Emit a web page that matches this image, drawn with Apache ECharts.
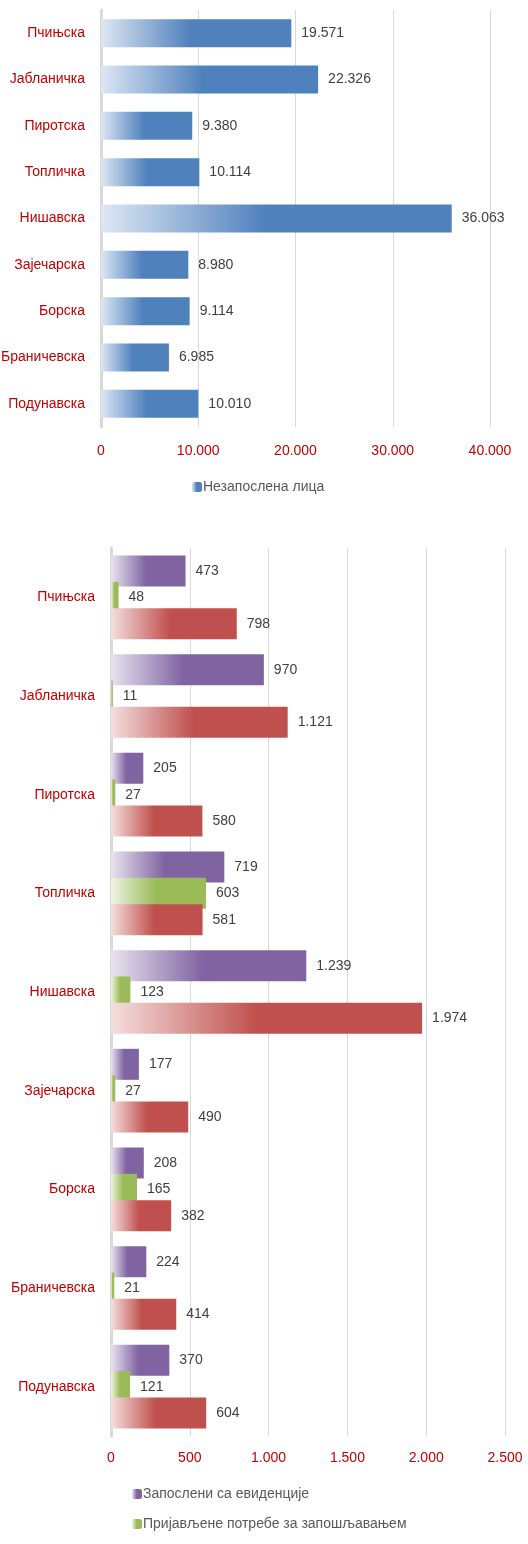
<!DOCTYPE html>
<html>
<head>
<meta charset="utf-8">
<script src="https://cdn.jsdelivr.net/npm/echarts@6/dist/echarts.min.js"></script>
<style>
html,body{margin:0;padding:0;background:#fff;}
#c{width:528px;height:1544px;}
</style>
</head>
<body>
<div id="c"></div>
<script>
const categories = ['Пчињска','Јабланичка','Пиротска','Топличка','Нишавска','Зајечарска','Борска','Браничевска','Подунавска'];
const unemployed = [19571,22326,9380,10114,36063,8980,9114,6985,10010];
const employedFromRegister = [473,970,205,719,1239,177,208,224,370];
const reportedNeeds = [48,11,27,603,123,27,165,21,121];
const thirdSeries = [798,1121,580,581,1974,490,382,414,604];
const xTicks1 = [0,10000,20000,30000,40000];
const xTicks2 = [0,500,1000,1500,2000,2500];

const FONT = "'Liberation Sans',Arial,sans-serif";
const FS = 14;
const RED = '#c00000';
const fmt = v => String(v).replace(/\B(?=(\d{3})+(?!\d))/g, '.');
function grad(light, full){
  return new echarts.graphic.LinearGradient(0,0,1,0,[
    {offset:0,color:light},{offset:0.47,color:full},{offset:1,color:full}
  ]);
}
const label = {show:true, position:'right', distance:10, color:'#404040', fontSize:FS, fontFamily:FONT, formatter:p=>fmt(p.value)};

const chart = echarts.init(document.getElementById('c'), null, {renderer:'canvas'});
chart.setOption({
  animation:false,
  textStyle:{fontFamily:FONT},
  grid:[
    {left:101, top:10, width:389, height:417, containLabel:false, outerBoundsMode:'none'},
    {left:111, top:548, width:394, height:888, containLabel:false, outerBoundsMode:'none'}
  ],
  xAxis:[
    {gridIndex:0, type:'value', min:xTicks1[0], max:xTicks1[xTicks1.length-1], interval:10000,
     axisLine:{show:false}, axisTick:{show:false},
     splitLine:{lineStyle:{color:'#d9d9d9',width:1}},
     axisLabel:{color:RED, fontSize:FS, fontFamily:FONT, margin:17, formatter:fmt}},
    {gridIndex:1, type:'value', min:xTicks2[0], max:xTicks2[xTicks2.length-1], interval:500,
     axisLine:{show:false}, axisTick:{show:false},
     splitLine:{lineStyle:{color:'#d9d9d9',width:1}},
     axisLabel:{color:RED, fontSize:FS, fontFamily:FONT, margin:15, formatter:fmt}}
  ],
  yAxis:[
    {gridIndex:0, type:'category', data:categories, inverse:true,
     axisLine:{lineStyle:{color:'#d9d9d9',width:3}}, axisTick:{show:false},
     axisLabel:{color:RED, fontSize:FS, fontFamily:FONT, margin:16}},
    {gridIndex:1, type:'category', data:categories, inverse:true,
     axisLine:{lineStyle:{color:'#d9d9d9',width:3}}, axisTick:{show:false},
     axisLabel:{color:RED, fontSize:FS, fontFamily:FONT, margin:16}}
  ],
  legend:[
    {data:['Незапослена лица'], left:192, top:480, padding:0, itemWidth:10, itemHeight:10, itemGap:4,
     textStyle:{color:'#595959', fontSize:FS, fontFamily:FONT, padding:[0,0,0,-4]}},
    {data:['Запослени са евиденције','Пријављене потребе за запошљавањем'], orient:'vertical',
     left:132, top:1487, padding:0, itemWidth:10, itemHeight:10, itemGap:16,
     textStyle:{color:'#595959', fontSize:FS, fontFamily:FONT, padding:[0,0,0,-4]}}
  ],
  series:[
    {name:'Незапослена лица', type:'bar', xAxisIndex:0, yAxisIndex:0, data:unemployed, barWidth:28,
     itemStyle:{color:grad('#dde7f3','#4f81bd')}, label:label},
    {name:'Запослени са евиденције', type:'bar', xAxisIndex:1, yAxisIndex:1, data:employedFromRegister,
     barWidth:31, barGap:'-15%', itemStyle:{color:grad('#e8e3ef','#8064a2')}, label:label},
    {name:'Пријављене потребе за запошљавањем', type:'bar', xAxisIndex:1, yAxisIndex:1, data:reportedNeeds,
     barWidth:31, barGap:'-15%', itemStyle:{color:grad('#eef4e2','#9bbb59')}, label:label},
    {name:'Брисани са евиденције', type:'bar', xAxisIndex:1, yAxisIndex:1, data:thirdSeries,
     barWidth:31, barGap:'-15%', itemStyle:{color:grad('#f4dfde','#c0504d')}, label:label}
  ]
});
</script>
</body>
</html>
